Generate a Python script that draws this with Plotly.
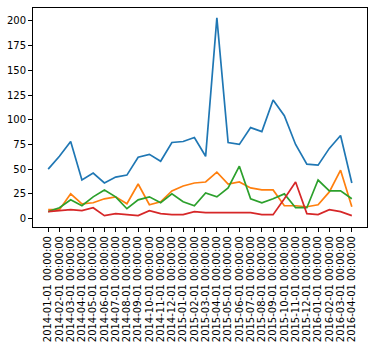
import plotly.graph_objects as go

months = ["2014-%02d-01 00:00:00" % m for m in range(1, 13)] + \
         ["2015-%02d-01 00:00:00" % m for m in range(1, 13)] + \
         ["2016-%02d-01 00:00:00" % m for m in range(1, 5)]

blue = [50, 63, 78, 39, 46, 36, 42, 44, 62, 65, 58, 77, 78, 82, 63, 203,
        77, 75, 92, 88, 120, 104, 75, 55, 54, 71, 84, 36]
orange = [9, 9, 25, 15, 16, 20, 22, 15, 35, 14, 17, 28, 33, 36, 37, 47,
          35, 37, 31, 29, 29, 13, 13, 12, 14, 27, 49, 12]
green = [7, 11, 19, 13, 22, 29, 22, 10, 19, 22, 16, 25, 17, 13, 26, 22,
         31, 53, 20, 16, 20, 25, 11, 11, 39, 28, 28, 20]
red = [7, 8, 9, 8, 11, 3, 5, 4, 3, 8, 5, 4, 4, 7, 6, 6,
       6, 6, 6, 4, 4, 20, 37, 5, 4, 9, 7, 3]

series = [(blue, "#1f77b4"), (orange, "#ff7f0e"), (green, "#2ca02c"), (red, "#d62728")]
yticks = list(range(0, 201, 25))

fig = go.Figure()
for vals, col in series:
    fig.add_trace(go.Scatter(x=list(range(len(months))), y=vals, mode="lines",
                             line=dict(color=col, width=1.7), showlegend=False,
                             hoverinfo="skip"))

fig.update_layout(
    width=387, height=356,
    margin=dict(l=33, r=20, t=8, b=129),
    paper_bgcolor="white", plot_bgcolor="white",
    font=dict(family="DejaVu Sans", size=10, color="black"),
)
fig.update_xaxes(
    range=[-1.35, len(months) - 1 + 1.35],
    tickmode="array", tickvals=list(range(len(months))), ticktext=months,
    tickangle=-90, ticks="outside", ticklen=4, tickcolor="black",
    showline=True, linecolor="black", linewidth=1, mirror=True,
    showgrid=False, zeroline=False, automargin=False,
)
fig.update_yaxes(
    range=[-8.5, 213],
    tickmode="array", tickvals=yticks, ticktext=[str(v) for v in yticks],
    ticks="outside", ticklen=4, tickcolor="black",
    showline=True, linecolor="black", linewidth=1, mirror=True,
    showgrid=False, zeroline=False, automargin=False,
)
fig.write_html("out.html", config={"displayModeBar": False},
               post_script="document.body.style.margin='0';")
